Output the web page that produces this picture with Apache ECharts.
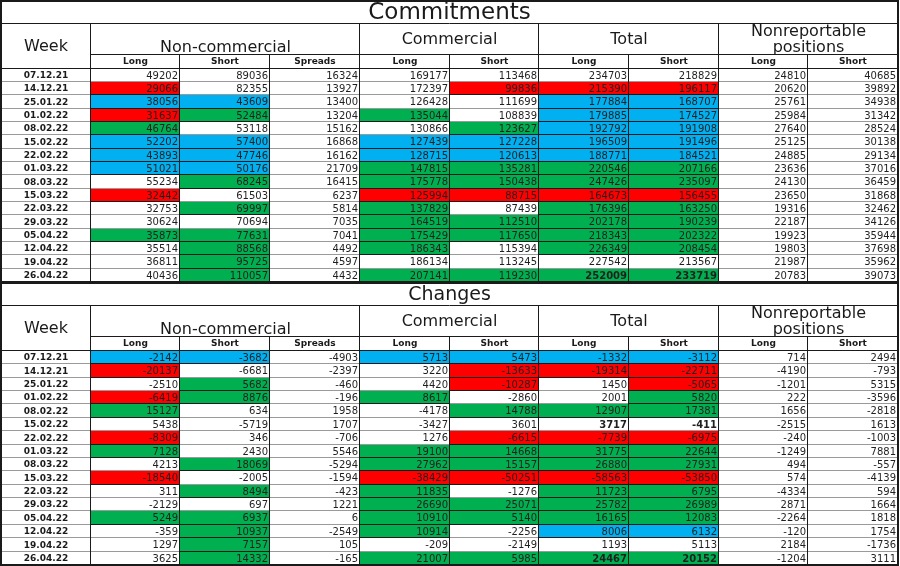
<!DOCTYPE html>
<html>
<head>
<meta charset="utf-8">
<script src="https://cdn.jsdelivr.net/npm/echarts@6/dist/echarts.min.js"></script>
<style>
  html, body { margin: 0; padding: 0; background: #fff; }
  #main { width: 900px; height: 566px; }
</style>
</head>
<body>
<div id="main"></div>
<script>
// weeks (rows), same for both tables
const weeks = ['07.12.21', '14.12.21', '25.01.22', '01.02.22', '08.02.22', '15.02.22', '22.02.22', '01.03.22',
  '08.03.22', '15.03.22', '22.03.22', '29.03.22', '05.04.22', '12.04.22', '19.04.22', '26.04.22'];

const groupTitles = ['\nNon-commercial', 'Commercial', 'Total', 'Nonreportable\npositions'];
const groupSpans = [[1, 4], [4, 6], [6, 8], [8, 10]];
const subHeaders = ['Long', 'Short', 'Spreads', 'Long', 'Short', 'Long', 'Short', 'Long', 'Short'];

// Commitments
const comNcLong = [49202, 29066, 38056, 31637, 46764, 52202, 43893, 51021, 55234, 32442, 32753, 30624, 35873, 35514, 36811, 40436];
const comNcShort = [89036, 82355, 43609, 52484, 53118, 57400, 47746, 50176, 68245, 61503, 69997, 70694, 77631, 88568, 95725, 110057];
const comNcSpreads = [16324, 13927, 13400, 13204, 15162, 16868, 16162, 21709, 16415, 6237, 5814, 7035, 7041, 4492, 4597, 4432];
const comCLong = [169177, 172397, 126428, 135044, 130866, 127439, 128715, 147815, 175778, 125994, 137829, 164519, 175429, 186343, 186134, 207141];
const comCShort = [113468, 99836, 111699, 108839, 123627, 127228, 120613, 135281, 150438, 88715, 87439, 112510, 117650, 115394, 113245, 119230];
const comTLong = [234703, 215390, 177884, 179885, 192792, 196509, 188771, 220546, 247426, 164673, 176396, 202178, 218343, 226349, 227542, 252009];
const comTShort = [218829, 196117, 168707, 174527, 191908, 191496, 184521, 207166, 235097, 156455, 163250, 190239, 202322, 208454, 213567, 233719];
const comNrLong = [24810, 20620, 25761, 25984, 27640, 25125, 24885, 23636, 24130, 23650, 19316, 22187, 19923, 19803, 21987, 20783];
const comNrShort = [40685, 39892, 34938, 31342, 28524, 30138, 29134, 37016, 36459, 31868, 32462, 34126, 35944, 37698, 35962, 39073];
// highlight per row, one char per column: r = fell, g = rose, b = mixed
const comMarks = ['.........', 'r...rrr..', 'bb...bb..', 'rg.g.bb..', 'g...gbb..', 'bb.bbbb..', 'bb.bbbb..', 'bb.gggg..',
  '.g.gggg..', 'r..rrrr..', '.g.g.gg..', '...gggg..', 'gg.gggg..', '.g.g.gg..', '.g.......', '.g.gggg..'];
const comBold = [[15, 5], [15, 6]];

// Changes
const chgNcLong = [-2142, -20137, -2510, -6419, 15127, 5438, -8309, 7128, 4213, -18540, 311, -2129, 5249, -359, 1297, 3625];
const chgNcShort = [-3682, -6681, 5682, 8876, 634, -5719, 346, 2430, 18069, -2005, 8494, 697, 6937, 10937, 7157, 14332];
const chgNcSpreads = [-4903, -2397, -460, -196, 1958, 1707, -706, 5546, -5294, -1594, -423, 1221, 6, -2549, 105, -165];
const chgCLong = [5713, 3220, 4420, 8617, -4178, -3427, 1276, 19100, 27962, -38429, 11835, 26690, 10910, 10914, -209, 21007];
const chgCShort = [5473, -13633, -10287, -2860, 14788, 3601, -6615, 14668, 15157, -50251, -1276, 25071, 5140, -2256, -2149, 5985];
const chgTLong = [-1332, -19314, 1450, 2001, 12907, 3717, -7739, 31775, 26880, -58563, 11723, 25782, 16165, 8006, 1193, 24467];
const chgTShort = [-3112, -22711, -5065, 5820, 17381, -411, -6975, 22644, 27931, -53850, 6795, 26989, 12083, 6132, 5113, 20152];
const chgNrLong = [714, -4190, -1201, 222, 1656, -2515, -240, -1249, 494, 574, -4334, 2871, -2264, -120, 2184, -1204];
const chgNrShort = [2494, -793, 5315, -3596, -2818, 1613, -1003, 7881, -557, -4139, 594, 1664, 1818, 1754, -1736, 3111];
const chgMarks = ['bb.bbbb..', 'r...rrr..', '.g..r.r..', 'rg.g..g..', 'g...ggg..', '.........', 'r...rrr..', 'g..gggg..',
  '.g.gggg..', 'r..rrrr..', '.g.g.gg..', '...gggg..', 'gg.gggg..', '.g.g.bb..', '.g.......', '.g.gggg..'];
const chgBold = [[5, 5], [5, 6], [15, 5], [15, 6]];

const tables = [
  { title: 'Commitments', cols: [comNcLong, comNcShort, comNcSpreads, comCLong, comCShort, comTLong, comTShort, comNrLong, comNrShort], marks: comMarks, bold: comBold },
  { title: 'Changes', cols: [chgNcLong, chgNcShort, chgNcSpreads, chgCLong, chgCShort, chgTLong, chgTShort, chgNrLong, chgNrShort], marks: chgMarks, bold: chgBold }
];

// row heights in "data row" units
const TITLE_H = 1.7, GROUP_H = 2.37, SUB_H = 1.0;
const HEAD = TITLE_H + GROUP_H + SUB_H;
const TOTAL = HEAD + weeks.length;
const TITLE_FONT = ['23px "DejaVu Sans"', '19px "DejaVu Sans"'];
const FILL = { '.': '#ffffff', r: '#ff0000', g: '#00b050', b: '#00b0f0' };

function px(api, x, y) {
  const p = api.coord([x, y]);
  return [Math.round(p[0]), Math.round(p[1])];
}

function edges(a, b, fill, hColor, vColor, noRight) {
  const kids = [
    { type: 'rect', shape: { x: a[0], y: a[1], width: b[0] - a[0], height: b[1] - a[1] }, style: { fill: fill } },
    { type: 'line', shape: { x1: a[0], y1: b[1] - 0.5, x2: b[0], y2: b[1] - 0.5 }, style: { stroke: hColor, lineWidth: 1 } }
  ];
  if (!noRight) {
    kids.push({ type: 'line', shape: { x1: b[0] - 0.5, y1: a[1], x2: b[0] - 0.5, y2: b[1] }, style: { stroke: vColor, lineWidth: 1 } });
  }
  return kids;
}

function buildHeaders(t) {
  const list = [];
  list.push({ box: [0, 0, 10, TITLE_H], text: tables[t].title, font: TITLE_FONT[t], title: true });
  list.push({ box: [0, TITLE_H, 1, HEAD], text: 'Week', font: '16px "DejaVu Sans"' });
  groupTitles.forEach((g, i) => {
    list.push({ box: [groupSpans[i][0], TITLE_H, groupSpans[i][1], TITLE_H + GROUP_H], text: g, font: '16px "DejaVu Sans"' });
  });
  subHeaders.forEach((s, i) => {
    list.push({ box: [i + 1, TITLE_H + GROUP_H, i + 2, HEAD], text: s, font: 'bold 9px "DejaVu Sans"' });
  });
  return list;
}

const series = [];
tables.forEach((tb, t) => {
  const headers = buildHeaders(t);
  series.push({
    type: 'custom',
    xAxisIndex: t,
    yAxisIndex: t,
    silent: true,
    data: headers.map(h => h.box),
    encode: { x: [0, 2], y: [1, 3] },
    renderItem: function (params, api) {
      const h = headers[params.dataIndex];
      const a = px(api, api.value(0), api.value(1));
      const b = px(api, api.value(2), api.value(3));
      const kids = edges(a, b, '#ffffff', '#1a1a1a', '#1a1a1a', h.title || api.value(2) === 10);
      kids.push({
        type: 'text',
        x: (a[0] + b[0]) / 2,
        y: (a[1] + b[1]) / 2 + (h.title ? 1 : 0),
        style: { text: h.text, font: h.font, fill: '#1a1a1a', align: 'center', verticalAlign: 'middle', lineHeight: 16 }
      });
      return { type: 'group', children: kids };
    }
  });

  const cells = [];
  weeks.forEach((w, r) => {
    cells.push([0, r, 0]);
    tb.cols.forEach((col, c) => cells.push([c + 1, r, col[r]]));
  });
  series.push({
    type: 'custom',
    xAxisIndex: t,
    yAxisIndex: t,
    silent: true,
    data: cells,
    encode: { x: 0, y: 1 },
    renderItem: function (params, api) {
      const c = api.value(0), r = api.value(1);
      const a = px(api, c, HEAD + r);
      const b = px(api, c + 1, HEAD + r + 1);
      const mark = c === 0 ? '.' : tb.marks[r][c - 1];
      const kids = edges(a, b, FILL[mark], mark === '.' ? '#9a9a9a' : '#1a1a1a', '#1a1a1a', c === 9);
      const midY = (a[1] + b[1]) / 2 + 0.5;
      if (c === 0) {
        kids.push({ type: 'text', x: (a[0] + b[0]) / 2, y: midY,
          style: { text: weeks[r], font: 'bold 9px "DejaVu Sans"', fill: '#1a1a1a', align: 'center', verticalAlign: 'middle' } });
      } else {
        const bold = tb.bold.some(p => p[0] === r && p[1] === c - 1);
        kids.push({ type: 'text', x: b[0] - 2, y: midY,
          style: { text: String(api.value(2)), font: (bold ? 'bold ' : '') + '10px "DejaVu Sans"', fill: '#1f1f1f', align: 'right', verticalAlign: 'middle' } });
      }
      return { type: 'group', children: kids };
    }
  });
});

const chart = echarts.init(document.getElementById('main'));
chart.setOption({
  animation: false,
  backgroundColor: '#ffffff',
  grid: [
    { left: 1, right: 2, top: 1, height: 281, show: true, z: 10, backgroundColor: 'transparent', borderColor: '#1a1a1a', borderWidth: 2 },
    { left: 1, right: 2, top: 283, height: 282, show: true, z: 10, backgroundColor: 'transparent', borderColor: '#1a1a1a', borderWidth: 2 }
  ],
  xAxis: [0, 1].map(i => ({ type: 'value', gridIndex: i, min: 0, max: 10, show: false })),
  yAxis: [0, 1].map(i => ({ type: 'value', gridIndex: i, min: 0, max: TOTAL, inverse: true, show: false })),
  series: series
});
</script>
</body>
</html>
